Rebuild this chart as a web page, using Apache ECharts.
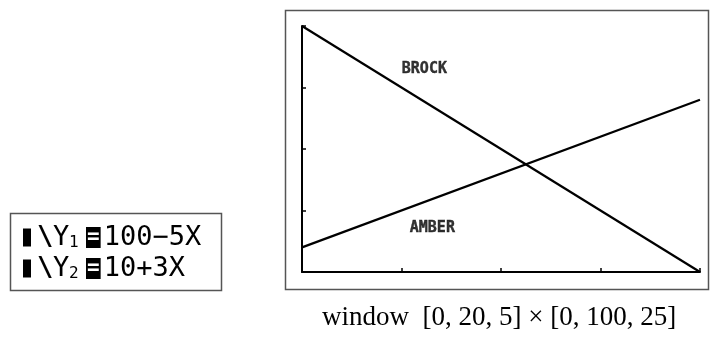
<!DOCTYPE html>
<html>
<head>
<meta charset="utf-8">
<title>window</title>
<script src="https://cdn.jsdelivr.net/npm/echarts@6/dist/echarts.min.js"></script>
<style>
  body { margin: 0; background: #fff; }
  #main { width: 710px; height: 344px; }
</style>
</head>
<body>
<div id="main"></div>
<script>
// window [0,20,5] x [0,100,25]
var xTicks = [0, 5, 10, 15, 20];
var yTicks = [0, 25, 50, 75, 100];

// Y1 = 100-5X (Brock), Y2 = 10+3X (Amber), read at the window edges
var xs = [0, 20];
var brock = [100, 0];
var amber = [10, 70];

// where the names sit, in data units
var names = ['BROCK', 'AMBER'];
var namePos = [[6.15, 82.5], [6.55, 18]];

var chart = echarts.init(document.getElementById('main'));

var calcFont = '"DejaVu Sans Mono", monospace';
// graphic text uses zrender styles, so fill instead of color
var rich = {
  t: { fontFamily: calcFont, fontSize: 27, fill: '#000' },
  blk: { width: 8, height: 18, backgroundColor: '#000' },
  gap: { width: 6 },
  sl: { fontFamily: calcFont, fontSize: 27, fontWeight: 'bold', fill: '#000', width: 16 },
  y: { fontFamily: calcFont, fontSize: 27, fill: '#000', width: 16 },
  sub: { fontFamily: calcFont, fontSize: 16, fill: '#000', width: 10, verticalAlign: 'bottom' },
  gap2: { width: 7 },
  sel: { fontFamily: calcFont, fontSize: 21, fontWeight: 'bold', fill: '#fff',
         backgroundColor: '#000', lineHeight: 16, padding: [0, 1, 0, 1] },
  gap3: { width: 3 }
};
function entry(n, rhs) {
  return '{blk| }{gap| }{sl|\\}{y|Y}{sub|' + n + '}{gap2| }{sel|=}{gap3| }{t|' + rhs + '}';
}

var option = {
  animation: false,
  grid: { left: 302, top: 26, right: 10, bottom: 72 },
  xAxis: {
    type: 'value', min: xTicks[0], max: xTicks[xTicks.length - 1], interval: 5,
    axisLine: { lineStyle: { color: '#000', width: 2 } },
    axisTick: { inside: true, length: 4, lineStyle: { color: '#000', width: 1.5 } },
    axisLabel: { show: false },
    splitLine: { show: false }
  },
  yAxis: {
    type: 'value', min: yTicks[0], max: yTicks[yTicks.length - 1], interval: 25,
    axisLine: { show: true, lineStyle: { color: '#000', width: 2 } },
    axisTick: { show: true, inside: true, length: 4, lineStyle: { color: '#000', width: 1.5 } },
    axisLabel: { show: false },
    splitLine: { show: false }
  },
  series: [
    {
      type: 'line', name: 'BROCK', showSymbol: false,
      data: xs.map(function (x, i) { return [x, brock[i]]; }),
      lineStyle: { color: '#000', width: 2.2 }
    },
    {
      type: 'line', name: 'AMBER', showSymbol: false,
      data: xs.map(function (x, i) { return [x, amber[i]]; }),
      lineStyle: { color: '#000', width: 2.2 }
    },
    {
      type: 'scatter', symbolSize: 0,
      data: namePos.map(function (p, i) { return { value: p, name: names[i] }; }),
      label: {
        show: true, position: 'inside', formatter: '{b}',
        fontFamily: calcFont, fontWeight: 'bold', fontSize: 15, color: '#000',
        textBorderColor: '#000', textBorderWidth: 0.4
      }
    }
  ],
  graphic: [
    // frame round the graph screen
    { type: 'rect', shape: { x: 285.5, y: 10.5, width: 423, height: 279 },
      style: { fill: 'none', stroke: '#555', lineWidth: 1.5 } },
    // Y= editor box
    { type: 'rect', shape: { x: 10.5, y: 213.5, width: 211, height: 77 },
      style: { fill: 'none', stroke: '#555', lineWidth: 1.5 } },
    { type: 'text', left: 23, top: 224, style: { text: entry('1', '100−5X'), rich: rich } },
    { type: 'text', left: 23, top: 255, style: { text: entry('2', '10+3X'), rich: rich } },
    // caption
    { type: 'text', left: 322, top: 304,
      style: { text: 'window  [0, 20, 5] × [0, 100, 25]',
               fontFamily: '"Liberation Serif", serif', fontSize: 27, fill: '#000' } }
  ]
};

chart.setOption(option);
</script>
</body>
</html>
